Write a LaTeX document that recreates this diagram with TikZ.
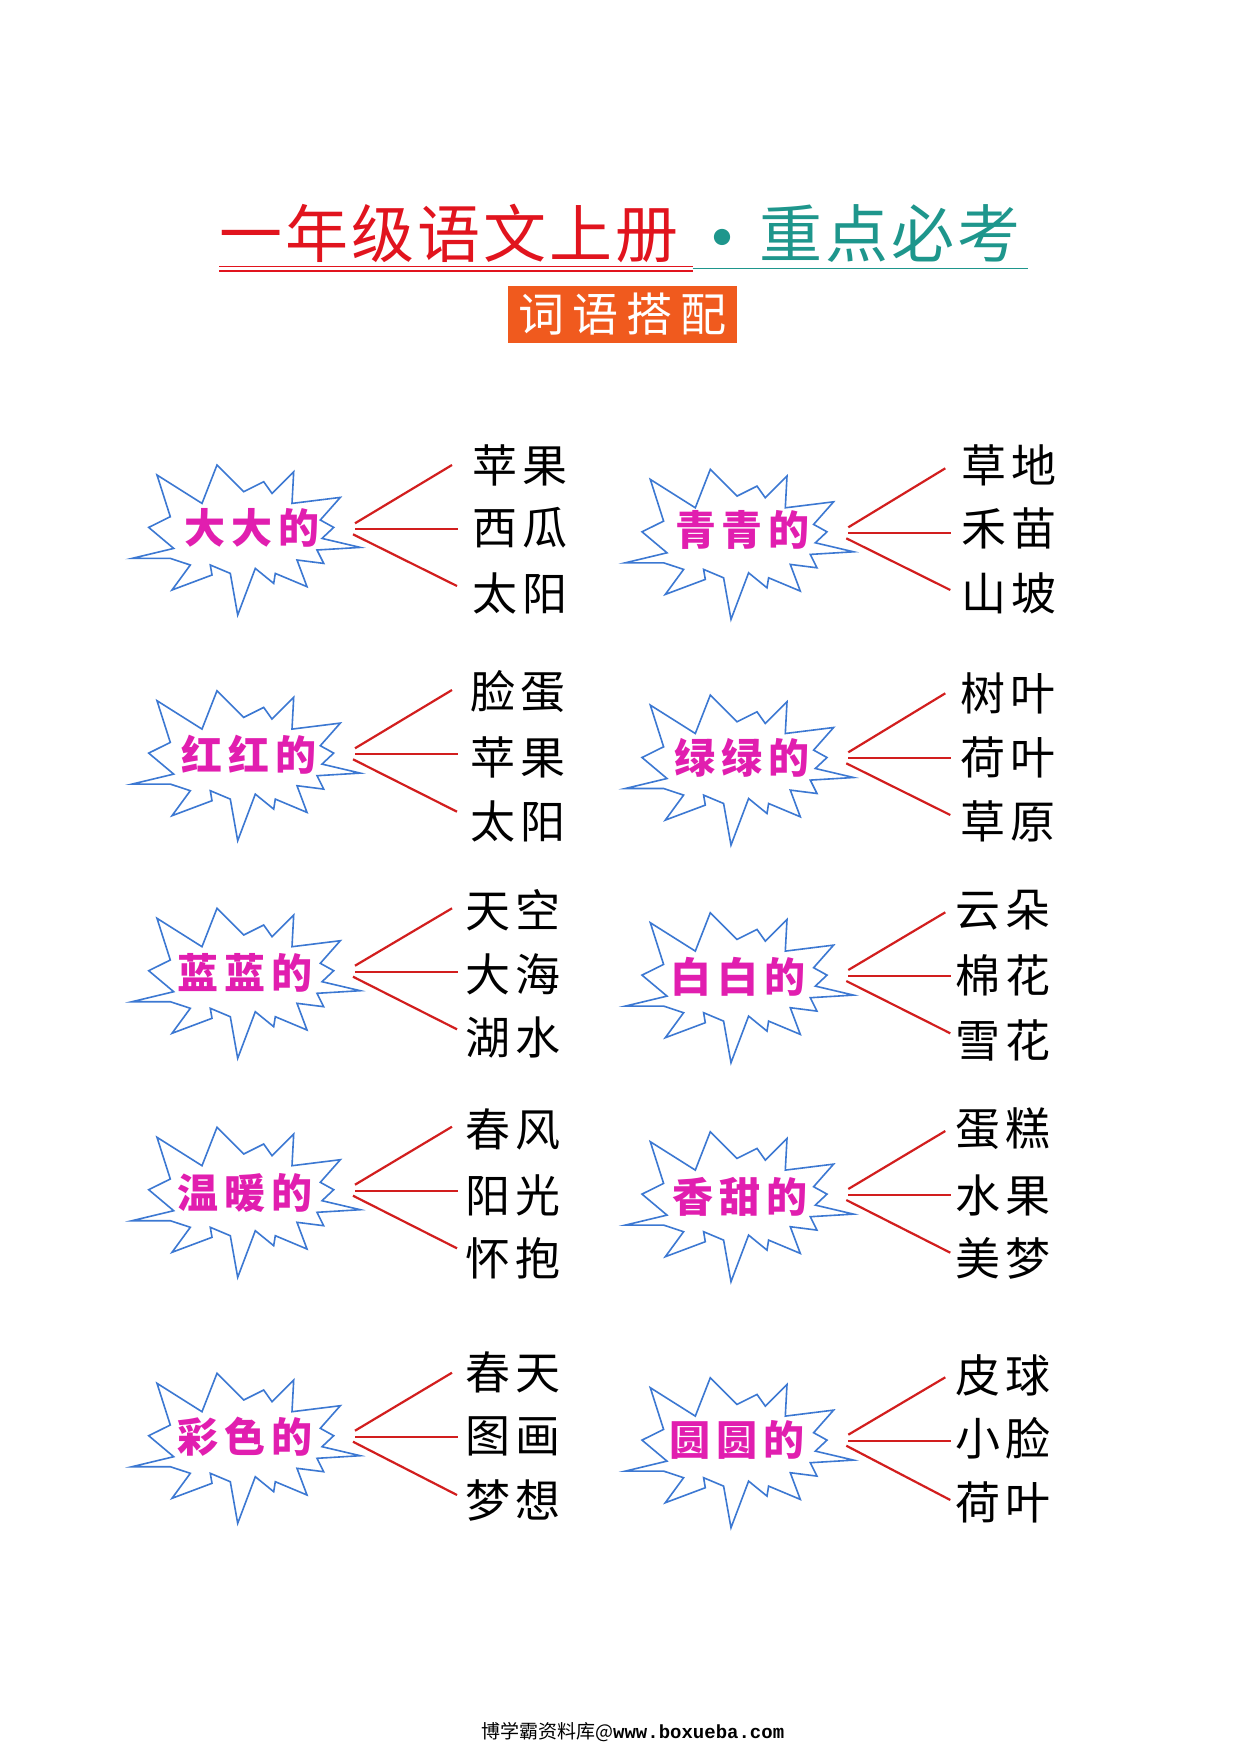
\documentclass[tikz,border=0pt]{standalone}
\usepackage{fontspec}
\newfontfamily\cjk{Noto Sans CJK SC}
\newfontfamily\monof{Liberation Mono}
\definecolor{titlered}{RGB}{225,20,30}
\definecolor{titleteal}{RGB}{30,150,140}
\definecolor{boxorange}{RGB}{240,90,30}
\definecolor{starblue}{RGB}{60,120,210}
\definecolor{adjmag}{RGB}{225,30,175}
\definecolor{fanred}{RGB}{210,30,30}
\newcommand\tw[2]{#1\hspace{5pt}#2}
\newcommand\tri[3]{#1\hspace{6pt}#2\hspace{6pt}#3}
\tikzset{
  starline/.style={draw=starblue, line width=1.6pt, fill=white, line join=miter},
  fan/.style={draw=fanred, line width=2.2pt},
  adj/.style={inner sep=0pt, text=adjmag, font=\cjk\bfseries\fontsize{41}{41}\selectfont},
  word/.style={inner sep=0pt, anchor=west, text=black, font=\cjk\fontsize{45}{45}\selectfont},
}
% #1 id, #2 sx, #3 sy, #4 text, #5 tx, #6 ty, #7 ym, #8 yt, #9 yb
\newcommand\blk[9]{%
  \begin{scope}[shift={(#2,#3)}]
    \draw[starline] (-120,21.7) -- (-78.3,11.7) -- (-103.3,-9.3) -- (-81.7,-20) -- (-95,-61.7)
      -- (-50,-33.3) -- (-35,-71.7) -- (-8.3,-45) -- (11.7,-55) -- (20,-43.3) -- (41.7,-65)
      -- (40,-33.3) -- (88.3,-39.3) -- (68.3,-16.7) -- (81.7,-9.3) -- (70,1.7) -- (108.3,10.7)
      -- (65,13.3) -- (71.7,26.7) -- (45,23.3) -- (55,50) -- (23.3,36.7) -- (21.7,46.7)
      -- (3.3,31.7) -- (-14.3,78.3) -- (-21.7,36.7) -- (-41.7,28.3) -- (-40,38.3) -- (-80,53.3)
      -- (-61.7,28.3) -- (-81.7,21.7) -- cycle;
  \end{scope}
  \node[adj] (#1) at (#5,#6) {#4};
  \coordinate (#1-s1) at (#2+103,#7-6);
  \coordinate (#1-s2) at (#2+103,#7);
  \coordinate (#1-s3) at (#2+101,#7+5);
  \coordinate (#1-e1) at (#2+200,#8);
  \coordinate (#1-e2) at (#2+206,#7);
  \coordinate (#1-e3) at (#2+205,#9);
  \draw[fan] (#1-s1) -- (#1-e1);
  \draw[fan] (#1-s2) -- (#1-e2);
  \draw[fan] (#1-s3) -- (#1-e3);
}
\begin{document}
\begin{tikzpicture}[x=1pt,y=-1pt]
\useasboundingbox (0,0) rectangle (1241,1754);
\fill[white] (0,0) rectangle (1241,1754);

% title
\node[inner sep=0pt, anchor=west, text=titlered, font=\cjk\fontsize{63}{63}\selectfont] (t1) at (219,233.5)
  {一\hspace{3pt}年\hspace{3pt}级\hspace{3pt}语\hspace{3pt}文\hspace{3pt}上\hspace{3pt}册};
\node[inner sep=0pt, text=titleteal, font=\cjk\bfseries\fontsize{58}{58}\selectfont] (tdot) at (722,244) {•};
\node[inner sep=0pt, anchor=west, text=titleteal, font=\cjk\fontsize{63}{63}\selectfont] (t2) at (759,233.5)
  {重\hspace{3pt}点\hspace{3pt}必\hspace{3pt}考};
\draw[titlered, line width=1.6pt] (219,266.5) -- (693,266.5);
\draw[titlered, line width=1.6pt] (219,271) -- (693,271);
\draw[titleteal, line width=1.8pt] (693,268.5) -- (1028,268.5);

% subtitle box
\node[fill=boxorange, minimum width=229pt, minimum height=57pt, inner sep=0pt, text=white,
  font=\cjk\fontsize{46}{46}\selectfont] (sub) at (622.5,314.5)
  {词\hspace{8pt}语\hspace{8pt}搭\hspace{8pt}配};

% left column
\blk{L1}{252}{536.7}{\tri{大}{大}{的}}{251.7}{528.3}{529.3}{465}{586}
\node[word] (L1a) at (472,465) {\tw{苹}{果}};
\node[word] (L1b) at (472,528) {\tw{西}{瓜}};
\node[word] (L1c) at (472,593) {\tw{太}{阳}};

\blk{L2}{252}{762.4}{\tri{红}{红}{的}}{249}{755}{754.3}{690}{811.7}
\node[word] (L2a) at (470,692) {\tw{脸}{蛋}};
\node[word] (L2b) at (470,757) {\tw{苹}{果}};
\node[word] (L2c) at (470,821) {\tw{太}{阳}};

\blk{L3}{252}{980}{\tri{蓝}{蓝}{的}}{245}{973.3}{971.7}{908.3}{1029.3}
\node[word] (L3a) at (465,910) {\tw{天}{空}};
\node[word] (L3b) at (465,974) {\tw{大}{海}};
\node[word] (L3c) at (465,1037) {\tw{湖}{水}};

\blk{L4}{252}{1199}{\tri{温}{暖}{的}}{245}{1193.3}{1190.7}{1126.7}{1248.3}
\node[word] (L4a) at (465,1129) {\tw{春}{风}};
\node[word] (L4b) at (465,1195) {\tw{阳}{光}};
\node[word] (L4c) at (465,1258) {\tw{怀}{抱}};

\blk{L5}{252}{1445}{\tri{彩}{色}{的}}{245}{1436.7}{1436.7}{1372.7}{1495}
\node[word] (L5a) at (465,1372) {\tw{春}{天}};
\node[word] (L5b) at (465,1436) {\tw{图}{画}};
\node[word] (L5c) at (465,1500) {\tw{梦}{想}};

% right column
\blk{R1}{745.3}{541.1}{\tri{青}{青}{的}}{742.5}{530}{533.3}{468.3}{590}
\node[word] (R1a) at (961.7,465) {\tw{草}{地}};
\node[word] (R1b) at (961.7,528) {\tw{禾}{苗}};
\node[word] (R1c) at (961.7,593) {\tw{山}{坡}};

\blk{R2}{745.3}{766.8}{\tri{绿}{绿}{的}}{742}{758.3}{758.3}{693.3}{815}
\node[word] (R2a) at (960,693) {\tw{树}{叶}};
\node[word] (R2b) at (960,757) {\tw{荷}{叶}};
\node[word] (R2c) at (960,821) {\tw{草}{原}};

\blk{R3}{745.3}{984.4}{\tri{白}{白}{的}}{738}{976.7}{976}{912.3}{1033.3}
\node[word] (R3a) at (955,910) {\tw{云}{朵}};
\node[word] (R3b) at (955,975) {\tw{棉}{花}};
\node[word] (R3c) at (955,1040) {\tw{雪}{花}};

\blk{R4}{745.3}{1203.4}{\tri{香}{甜}{的}}{740}{1197}{1195}{1131}{1252.7}
\node[word] (R4a) at (955,1129) {\tw{蛋}{糕}};
\node[word] (R4b) at (955,1195) {\tw{水}{果}};
\node[word] (R4c) at (955,1258) {\tw{美}{梦}};

\blk{R5}{745.3}{1449.4}{\tri{圆}{圆}{的}}{737}{1440}{1440.7}{1377.3}{1500}
\node[word] (R5a) at (955,1375) {\tw{皮}{球}};
\node[word] (R5b) at (955,1438) {\tw{小}{脸}};
\node[word] (R5c) at (955,1502) {\tw{荷}{叶}};

% footer
\node[inner sep=0pt, anchor=west, font=\cjk\fontsize{19}{19}\selectfont] (foot) at (481,1731.7)
  {博学霸资料库@{\monof\bfseries www.boxueba.com}};
\end{tikzpicture}
\end{document}
